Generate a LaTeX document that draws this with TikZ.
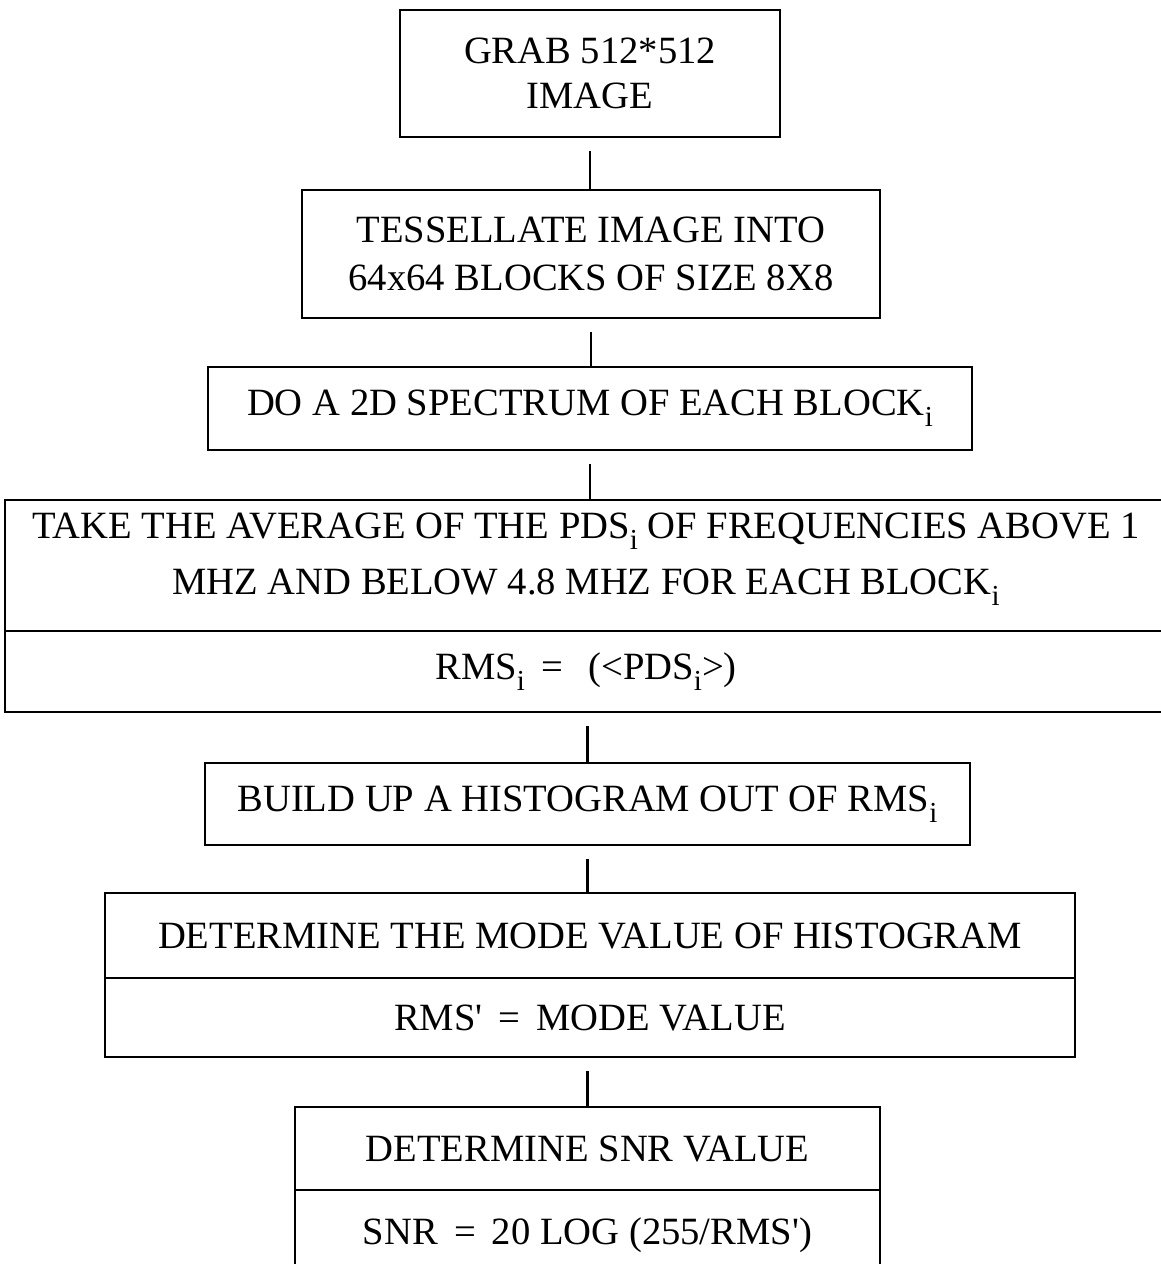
\documentclass[tikz,border=0pt]{standalone}
\usepackage{fontspec}
\setmainfont{Liberation Serif}
\usetikzlibrary{positioning}
\newcommand{\subi}{\raisebox{-5.5pt}{\fontsize{14.5}{14.5}\selectfont i}}

\begin{document}
\begin{tikzpicture}[x=0.5pt,y=-0.5pt,
  stepbox/.style={draw, line width=1.4pt, inner sep=0pt, outer sep=0pt,
    align=center, font=\fontsize{19.3}{24}\selectfont},
  link/.style={line width=1.2pt, shorten <=7pt}]
\useasboundingbox (0,0) rectangle (1161,1264);

% process steps, top to bottom
\node[stepbox, minimum width=190pt, minimum height=63.5pt,
  font=\fontsize{19.3}{22.5}\selectfont] (grab) at (590,73.5)
  {GRAB 512*512\\IMAGE};
\node[stepbox, minimum width=289pt, minimum height=64pt] (tess) at (591,254)
  {TESSELLATE IMAGE INTO\\64x64 BLOCKS OF SIZE 8X8};
\node[stepbox, minimum width=382pt, minimum height=41.5pt] (spec) at (590,408.5)
  {DO A 2D SPECTRUM OF EACH BLOCK\subi};
\node[stepbox, minimum width=581pt, minimum height=65.5pt, text depth=12pt,
  font=\fontsize{19.3}{28}\selectfont] (avg) at (586,565.5)
  {TAKE THE AVERAGE OF THE PDS\subi{} OF FREQUENCIES ABOVE 1\\
   MHZ AND BELOW 4.8 MHZ FOR EACH BLOCK\subi};
\node[stepbox, minimum width=581pt, minimum height=40.5pt, below=0pt of avg] (rms)
  {RMS\subi{} \,=\, \ (<PDS\subi>)};
\node[stepbox, minimum width=382.5pt, minimum height=41pt] (hist) at (587.5,804)
  {BUILD UP A HISTOGRAM OUT OF RMS\subi};
\node[stepbox, minimum width=485pt, minimum height=42.5pt] (mode) at (590,935.5)
  {DETERMINE THE MODE VALUE OF HISTOGRAM};
\node[stepbox, minimum width=485pt, minimum height=39.5pt, below=0pt of mode] (modeval)
  {RMS\textquotesingle{} \,=\, MODE VALUE};
\node[stepbox, minimum width=292.5pt, minimum height=41.5pt] (snr) at (587.5,1148.5)
  {DETERMINE SNR VALUE};
\node[stepbox, minimum width=292.5pt, minimum height=45pt, below=0pt of snr] (snrval)
  {SNR \,=\, 20 LOG (255/RMS\textquotesingle)};

% connectors
\draw[link] (grab.south) -- (grab.south |- tess.north);
\draw[link] (tess.south) -- (tess.south |- spec.north);
\draw[link] (spec.south) -- (spec.south |- avg.north);
\draw[link] (rms.south -| hist.north) -- (hist.north);
\draw[link] (hist.south) -- (hist.south |- mode.north);
\draw[link] (modeval.south -| snr.north) -- (snr.north);
\end{tikzpicture}
\end{document}
